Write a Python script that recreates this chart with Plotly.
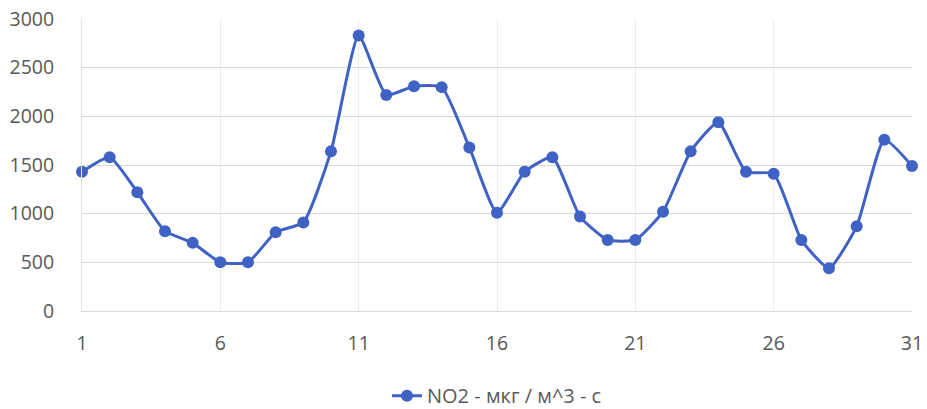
import plotly.graph_objects as go

days = list(range(1, 32))
no2 = [1430, 1580, 1220, 820, 700, 500, 500, 810, 910, 1640,
       2830, 2220, 2310, 2300, 1680, 1010, 1430, 1580, 970, 730,
       730, 1020, 1640, 1940, 1430, 1410, 730, 440, 870, 1760, 1490]
x_ticks = [1, 6, 11, 16, 21, 26, 31]
y_ticks = [0, 500, 1000, 1500, 2000, 2500, 3000]
series_name = "NO2 - мкг / м^3 - с"

blue = "#3F62C4"
fig = go.Figure()
fig.add_trace(go.Scatter(
    x=days, y=no2, name=series_name, mode="lines+markers",
    line=dict(color=blue, width=3, shape="spline", smoothing=0.5),
    marker=dict(color=blue, size=12),
    cliponaxis=False,
))

font = dict(family="Open Sans, Noto Sans, sans-serif", size=19.5, color="#595959")
fig.update_layout(
    width=927, height=409,
    margin=dict(l=82, r=15, t=19, b=98, autoexpand=False),
    paper_bgcolor="white", plot_bgcolor="white",
    font=font,
    showlegend=True,
    legend=dict(orientation="h", x=0.5, xanchor="center", y=-0.29, yanchor="middle",
                font=dict(size=20, color="#595959")),
    xaxis=dict(range=[1, 31], tickvals=x_ticks, showgrid=True, gridcolor="#ececec",
               gridwidth=1, zeroline=False, showline=True, linecolor="#d9d9d9",
               ticks="", ticklabelstandoff=15, tickfont=font, automargin=False),
    yaxis=dict(range=[0, 3000], tickvals=y_ticks, showgrid=True, gridcolor="#d9d9d9",
               gridwidth=1, zeroline=False, showline=True, linecolor="#e3e3e3",
               ticks="", ticklabelstandoff=23, tickfont=font, automargin=False),
)
fig.write_html("out.html", config={"displayModeBar": False},
               post_script="document.body.style.margin='0';document.body.style.overflow='hidden';")
